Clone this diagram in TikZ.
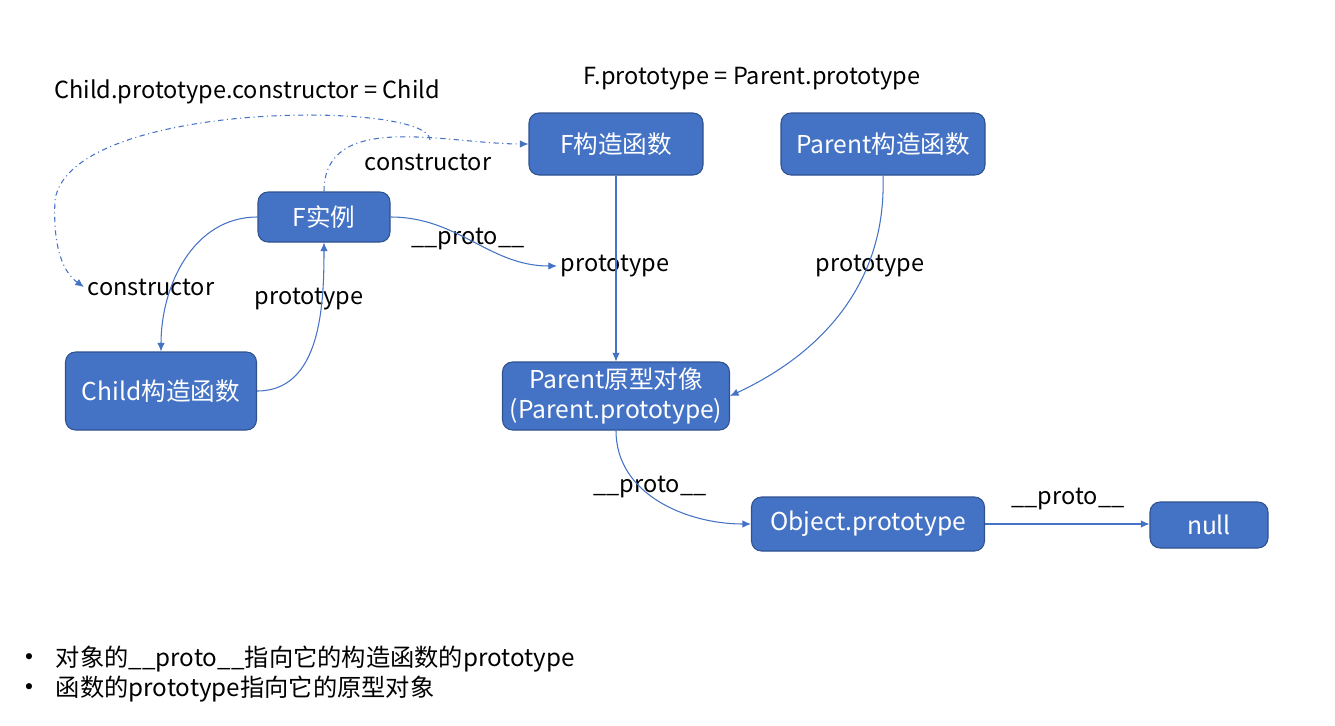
\documentclass[tikz,border=0pt]{standalone}
\usepackage{fontspec}
\setmainfont{Noto Sans CJK SC}
\newfontfamily\dotfont{DejaVu Sans}
\usepackage{tikz}
\usetikzlibrary{arrows.meta,calc}
\definecolor{boxblue}{HTML}{4472C4}
\definecolor{boxedge}{HTML}{2F528F}

\begin{document}
\begin{tikzpicture}[x=0.2mm,y=-0.2mm]
                      \tikzstyle{box}=[rectangle,rounded corners=2mm,draw=boxedge,fill=boxblue,text=white,font=\fontsize{14}{17}\selectfont,inner sep=0pt,line width=0.6pt]
                      \tikzstyle{lbl}=[font=\fontsize{13.4}{16}\selectfont,inner sep=2pt]
                      \tikzstyle{note}=[font=\fontsize{13.8}{16}\selectfont,inner sep=2pt]
                      \tikzstyle{dot}=[font=\dotfont\fontsize{12}{14}\selectfont,inner sep=0pt]
                      \tikzstyle{link}=[draw=boxblue,line width=0.6pt,-{Latex[length=1.7mm,width=1.5mm]}]
                      \tikzstyle{ctor}=[link,dash dot]
                      \useasboundingbox (0,0) rectangle (1335,725);
                      \node[box,minimum width=3.48cm,minimum height=1.24cm] (fc) at (616,144) {F构造函数};
                      \node[box,minimum width=4.08cm,minimum height=1.24cm] (pc) at (883,144) {Parent构造函数};
                      \node[box,minimum width=2.64cm,minimum height=1cm] (fi) at (324,217) {F实例};
                      \node[box,minimum width=3.82cm,minimum height=1.56cm] (cc) at (161,391) {Child构造函数};
                      \node[box,minimum width=4.54cm,minimum height=1.36cm,align=center] (po) at (616,396) {Parent原型对像\\(Parent.prototype)};
                      \node[box,minimum width=4.66cm,minimum height=1.08cm] (op) at (868,524) {Object.prototype};
                      \node[box,minimum width=2.36cm,minimum height=0.92cm] (nl) at (1209,525) {null};
                      \node[lbl] (t1) at (247,92) {Child.prototype.constructor = Child};
                      \node[lbl] (t2) at (752,79) {F.prototype = Parent.prototype};
                      \node[lbl] (c1) at (428,162) {constructor};
                      \node[lbl] (c2) at (151,287) {constructor};
                      \node[lbl] (p1) at (468,239) {\_\_proto\_\_};
                      \node[lbl] (r1) at (615,266) {prototype};
                      \node[lbl] (r2) at (870,266) {prototype};
                      \node[lbl] (r3) at (309,299) {prototype};
                      \node[lbl] (p2) at (650,487) {\_\_proto\_\_};
                      \node[lbl] (p3) at (1068,499) {\_\_proto\_\_};
                      \node[dot] (d1) at (29,659) {•};
                      \node[dot] (d2) at (29,689) {•};
                      \node[note,anchor=west] (b1) at (52,659) {对象的\_\_proto\_\_指向它的构造函数的prototype};
                      \node[note,anchor=west] (b2) at (52,689) {函数的prototype指向它的原型对象};
                      \coordinate (cs) at (430,140);
                      \draw[link] (fc.south) -- (po.north);
                      \draw[link] (pc.south) to[out=-88,in=25] (po.east);
                      \draw[link] (fi.east) to[out=0,in=180] (r1.west);
                      \draw[link] (fi.west) to[out=180,in=90] (cc.north);
                      \draw[link] (cc.east) to[out=0,in=-90] (fi.south);
                      \draw[link] (po.south) to[out=-90,in=180] (op.west);
                      \draw[link] (op.east) -- (op.east -| nl.west);
                      \draw[ctor] (fi.north) to[out=90,in=180] (fc.west);
                      \draw[ctor] (cs) .. controls (430,100) and (70,100) .. (55,200) .. controls (53,240) and (60,270) .. (c2.west);
                  \end{tikzpicture}
\end{document}
